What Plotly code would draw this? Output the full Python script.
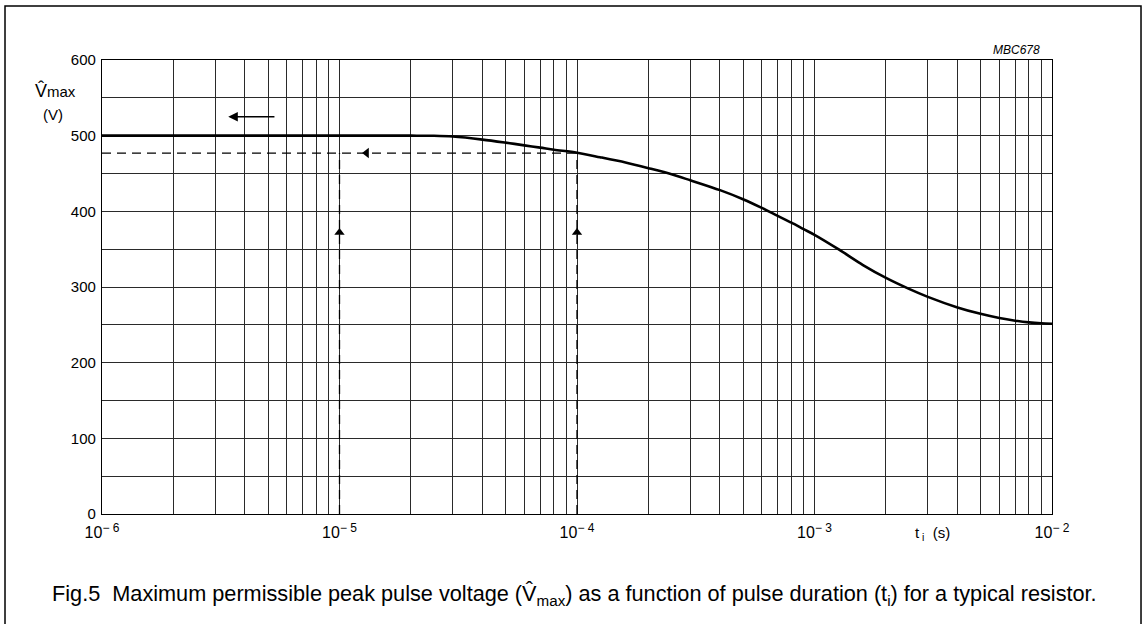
import numpy as np
import plotly.graph_objects as go

# ---- data ----
t_curve = [1e-6, 1e-5, 2e-5, 2.5e-5, 3e-5, 4e-5, 5e-5, 6e-5, 7e-5, 8e-5, 1e-4,
           1.25e-4, 1.6e-4, 2e-4, 2.5e-4, 3e-4, 4e-4, 5e-4, 6e-4, 7e-4, 8e-4, 9e-4, 1e-3,
           1.26e-3, 1.6e-3, 2e-3, 2.5e-3, 3e-3, 4e-3, 5e-3, 6e-3, 7e-3, 8e-3, 9e-3, 1e-2]
v_curve = [500, 500, 500, 499.8, 498.8, 494.8, 490.8, 487.2, 484.2, 481.4, 477.5,
           471.5, 464.5, 457, 449, 441, 428, 416, 404.5, 394, 385, 376.5, 369,
           350, 329, 312, 297.5, 287, 273, 264.5, 259, 255.5, 253.2, 252, 251.5]

v_read = 477            # dashed read-off level
t_read = [1e-5, 1e-4]   # dashed read-off durations
arrow_up_v = 372
arrow_left_t = 1.3e-5
solid_arrow_t = [5.4e-6, 3.4e-6]
solid_arrow_v = 525

x_tickvals = [1e-6, 1e-5, 1e-4, 1e-3, 1e-2]
x_exponents = ["6", "5", "4", "3", "2"]
x_ticktext = ["10<sup><span style='font-size:12px'>\u2212 " + e + "</span></sup>" for e in x_exponents]
x_minor = [m * 10.0 ** e for e in range(-6, -2) for m in range(2, 10)]
y_tickvals = [0, 100, 200, 300, 400, 500, 600]

caption = ("Fig.5  Maximum permissible peak pulse voltage (V\u0302<sub>max</sub>) as a function "
           "of pulse duration (t<sub>i</sub>) for a typical resistor.")

FONT = "Liberation Sans, Arial, sans-serif"
GRID = "#2a2a2a"

fig = go.Figure()

# main curve
fig.add_trace(go.Scatter(x=t_curve, y=v_curve, mode="lines",
                         line=dict(color="black", width=2.6, shape="spline", smoothing=0.8),
                         hoverinfo="skip"))
# dashed read-off lines
fig.add_trace(go.Scatter(x=[x_tickvals[0], t_read[1]], y=[v_read, v_read], mode="lines",
                         line=dict(color="black", width=1.3, dash="9px,6px"), hoverinfo="skip"))
for tr in t_read:
    fig.add_trace(go.Scatter(x=[tr, tr], y=[0, v_read], mode="lines",
                             line=dict(color="black", width=1.3, dash="9px,6px"), hoverinfo="skip"))
# arrowheads on dashed lines
fig.add_trace(go.Scatter(x=[arrow_left_t], y=[v_read], mode="markers",
                         marker=dict(symbol="triangle-left", size=9, color="black"), hoverinfo="skip"))
fig.add_trace(go.Scatter(x=t_read, y=[arrow_up_v] * len(t_read), mode="markers",
                         marker=dict(symbol="triangle-up", size=9, color="black"), hoverinfo="skip"))

# solid arrow (top-left)
fig.add_annotation(x=np.log10(solid_arrow_t[1]), y=solid_arrow_v,
                   ax=np.log10(solid_arrow_t[0]), ay=solid_arrow_v,
                   xref="x", yref="y", axref="x", ayref="y",
                   text="", showarrow=True, arrowhead=2, arrowsize=1.2,
                   arrowwidth=1.6, arrowcolor="black")

# y axis title
fig.add_annotation(x=-0.0726, y=0.933, xref="paper", yref="paper", xanchor="left", yanchor="middle",
                   text="V\u0302<span style='font-size:15px'>max</span>", showarrow=False,
                   font=dict(family=FONT, size=18, color="black"))
fig.add_annotation(x=-0.0516, y=0.881, xref="paper", yref="paper", xanchor="center", yanchor="middle",
                   text="(V)", showarrow=False, font=dict(family=FONT, size=15, color="black"))
# x axis title
fig.add_annotation(x=0.874, y=-0.042, xref="paper", yref="paper", xanchor="center", yanchor="middle",
                   text="t<sub> i</sub>  (s)", showarrow=False,
                   font=dict(family=FONT, size=15, color="black"))
# figure code
fig.add_annotation(x=0.9895, y=1.003, xref="paper", yref="paper", xanchor="right", yanchor="bottom",
                   text="<i>MBC678</i>", showarrow=False,
                   font=dict(family=FONT, size=12, color="black"))
# caption
fig.add_annotation(x=-0.0547, y=-0.178, xref="paper", yref="paper", xanchor="left", yanchor="middle",
                   text=caption, showarrow=False,
                   font=dict(family=FONT, size=21.7, color="black"))

# outer frame
fig.add_shape(type="rect", xref="paper", yref="paper",
              x0=-0.1021, x1=1.0937, y0=-0.30, y1=1.1189,
              line=dict(color="black", width=1.5), fillcolor="rgba(0,0,0,0)")

fig.update_xaxes(type="log", range=[-6, -2], tickmode="array", tickvals=x_tickvals,
                 ticktext=x_ticktext, showgrid=True, gridcolor=GRID, gridwidth=1,
                 minor=dict(tickmode="array", tickvals=x_minor, showgrid=True,
                            gridcolor=GRID, gridwidth=1),
                 showline=True, linecolor="black", linewidth=1.2, mirror=True,
                 ticks="", zeroline=False, ticklabelstandoff=4,
                 tickfont=dict(family=FONT, size=16, color="black"))
fig.update_yaxes(range=[0, 600], tickmode="array", tickvals=y_tickvals,
                 showgrid=True, gridcolor=GRID, gridwidth=1,
                 minor=dict(dtick=50, showgrid=True, gridcolor=GRID, gridwidth=1),
                 showline=True, linecolor="black", linewidth=1.2, mirror=True,
                 ticks="", zeroline=False, ticklabelstandoff=2,
                 tickfont=dict(family=FONT, size=15, color="black"))

fig.update_layout(width=1142, height=624, showlegend=False,
                  margin=dict(l=102, r=90, t=60, b=110, pad=0),
                  paper_bgcolor="white", plot_bgcolor="white")

fig.write_html("out.html", config={"displayModeBar": False},
               post_script="document.body.style.margin='0';")
